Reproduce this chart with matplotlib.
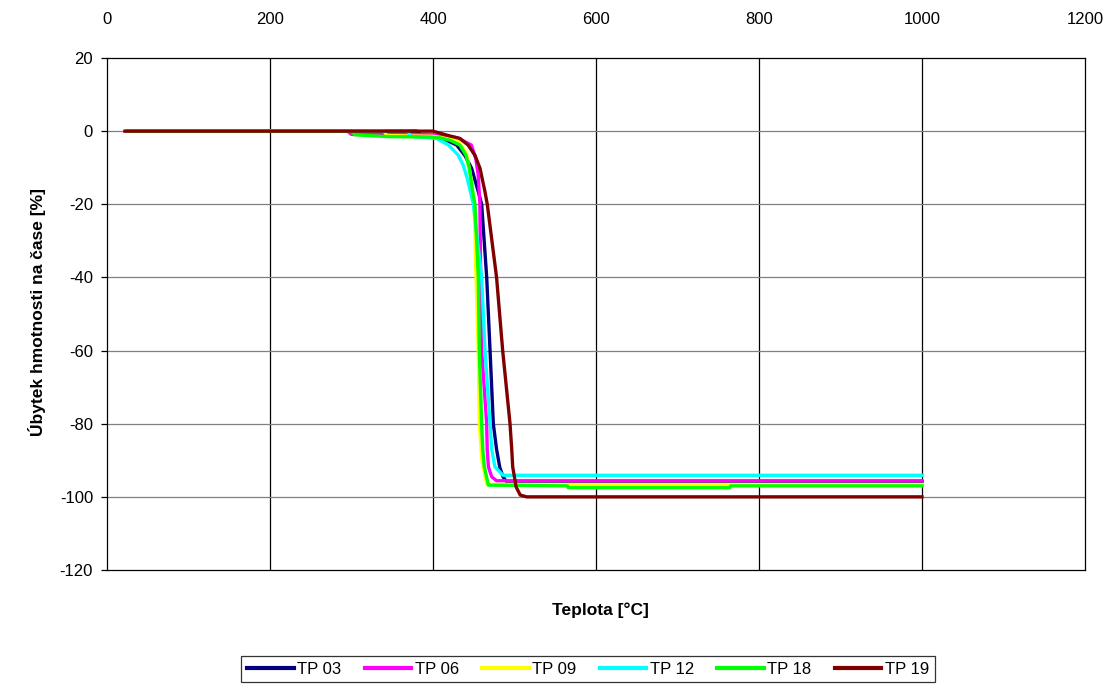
import matplotlib
matplotlib.use("Agg")
import matplotlib.pyplot as plt

plt.rcParams['font.family'] = ['Liberation Sans', 'DejaVu Sans']
plt.rcParams['axes.unicode_minus'] = False

labels = ["TP 03", "TP 06", "TP 09", "TP 12", "TP 18", "TP 19"]
colors = ["#000080", "#FF00FF", "#FFFF00", "#00FFFF", "#00FF00", "#800000"]

tp03_t = [25, 380, 385, 400, 412, 429, 439, 447.5, 455.6, 459.7, 465.9, 470, 474, 478, 482, 486, 490, 1000]
tp03_v = [0, 0, -1.0, -1.2, -2.0, -3.8, -6.6, -10.2, -16.6, -20, -40, -60, -80, -87, -92, -94.5, -95.8, -95.8]

tp06_t = [25, 295, 300, 400, 430, 447, 452.5, 455.5, 457.5, 458.5, 459.7, 465.9, 466.5, 468, 472, 478, 1000]
tp06_v = [0, 0, -0.9, -1.0, -1.8, -3.8, -7.5, -12, -20, -40, -60, -80, -87, -91.8, -94.5, -95.6, -95.6]

tp09_t = [25, 340, 343, 400, 430, 441, 446, 450.5, 452.8, 455.5, 456.8, 460, 466, 1000]
tp09_v = [0, 0, -1.2, -1.4, -2.5, -6.0, -12, -20, -40, -60, -80, -90, -96.6, -96.6]

tp12_t = [25, 370, 372, 395, 404.5, 419, 431, 437, 442, 446, 449.5, 459.7, 463.8, 470, 472, 476, 486, 1000]
tp12_v = [0, 0, -1.4, -1.8, -2.0, -3.8, -6.6, -9.3, -12.9, -16.6, -20, -40, -60, -80, -87, -91.8, -94.1, -94.1]

tp18_t = [25, 300, 304, 345, 396, 408, 421, 433, 440.5, 444.6, 448.7, 451.5, 455.6, 456.8, 459.7, 461, 463, 468, 565, 566, 764, 765, 1000]
tp18_v = [0, 0, -1.0, -1.5, -1.6, -1.8, -2.5, -3.8, -6.6, -10.2, -16.6, -20, -40, -60, -80, -87, -91.8, -96.8, -97.0, -97.5, -97.5, -97.0, -97.0]

tp19_t = [22, 400, 417, 433, 443, 451.5, 457.7, 463.8, 466.6, 478, 485.5, 494.5, 496.6, 497.8, 502, 507, 515, 1000]
tp19_v = [0, 0, -1.1, -2.0, -3.8, -6.6, -10.2, -16.6, -20, -40, -60, -80, -87, -91.8, -97.3, -99.5, -100, -100]

series_t = [tp03_t, tp06_t, tp09_t, tp12_t, tp18_t, tp19_t]
series_v = [tp03_v, tp06_v, tp09_v, tp12_v, tp18_v, tp19_v]

x_ticks = [0, 200, 400, 600, 800, 1000, 1200]
y_ticks = [20, 0, -20, -40, -60, -80, -100, -120]

fig = plt.figure(figsize=(11.2, 6.97), dpi=100)
ax = fig.add_axes([107/1120, 1-570/697, (1085-107)/1120, (570-58)/697])

for xv in x_ticks[1:-1]:
    ax.axvline(xv, color="black", lw=0.9, zorder=1)
for yv in y_ticks[1:-1]:
    ax.axhline(yv, color="#808080", lw=0.9, zorder=1)

for t, v, c, lab in zip(series_t, series_v, colors, labels):
    ax.plot(t, v, color=c, lw=2.4, label=lab, zorder=3)

ax.set_xlim(0, 1200)
ax.set_ylim(-120, 20)
ax.set_xticks(x_ticks)
ax.set_yticks(y_ticks)
ax.xaxis.tick_top()
ax.tick_params(axis='x', length=0, pad=22, labelsize=12)
ax.tick_params(axis='y', length=4, width=0.9, direction='out', pad=6, labelsize=12)
for s in ax.spines.values():
    s.set_color("black")
    s.set_linewidth(0.9)

fig.text(600/1120, 1-610/697, "Teplota [°C]", ha='center', va='center', fontsize=12.5, fontweight='bold')
fig.text(37/1120, 1-312/697, "Úbytek hmotnosti na čase [%]", ha='center', va='center', rotation=90, fontsize=12.5, fontweight='bold')

leg = fig.legend(loc='center', bbox_to_anchor=(588/1120, 1-669/697), ncol=6, fontsize=12,
                 frameon=True, fancybox=False, handlelength=2.8, handletextpad=0.2,
                 columnspacing=1.4, borderpad=0.35, borderaxespad=0)
leg.get_frame().set_edgecolor("black")
leg.get_frame().set_linewidth(0.9)
for h in leg.get_lines():
    h.set_linewidth(3)

fig.savefig("out.png", dpi=100)
